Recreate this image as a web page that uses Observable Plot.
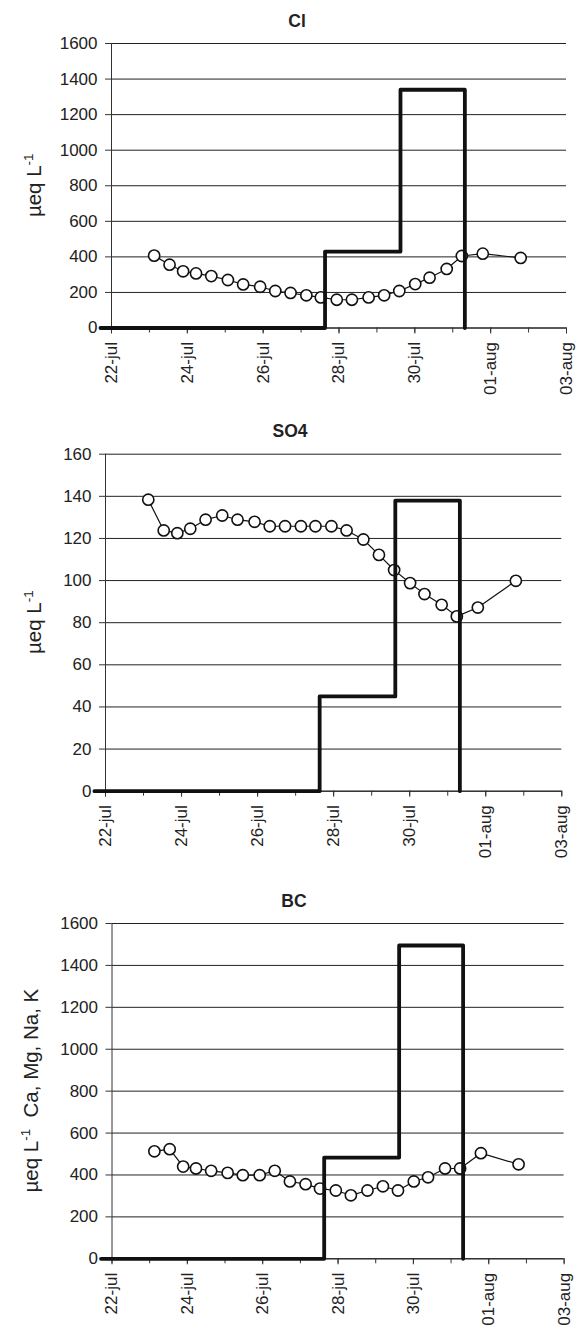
<!DOCTYPE html>
<html><head><meta charset="utf-8">
<script src="https://cdn.jsdelivr.net/npm/d3@7"></script>
<script src="https://cdn.jsdelivr.net/npm/@observablehq/plot@0.6"></script>
<style>
body{margin:0;background:#fff}
#chart{width:583px}
#chart svg{display:block}
</style>
</head><body><div id="chart"></div>
<script>
// ---- data ----
const sampleTimes = ["2008-07-23T03:00Z","2008-07-23T12:45Z","2008-07-23T21:20Z","2008-07-24T05:30Z","2008-07-24T15:10Z","2008-07-25T01:40Z","2008-07-25T11:20Z","2008-07-25T22:05Z","2008-07-26T07:40Z","2008-07-26T17:20Z","2008-07-27T03:20Z","2008-07-27T12:30Z","2008-07-27T22:35Z","2008-07-28T08:10Z","2008-07-28T18:45Z","2008-07-29T04:35Z","2008-07-29T14:10Z","2008-07-30T00:15Z","2008-07-30T09:20Z","2008-07-30T20:10Z","2008-07-31T05:45Z","2008-07-31T19:00Z","2008-08-01T19:00Z"];
const clValues  = [407,356,319,307,292,270,245,232,208,197,184,172,159,159,172,184,208,247,283,332,405,418,394];
const so4Values = [138.4,123.8,122.5,124.6,128.9,130.9,128.9,127.9,125.8,125.8,125.8,125.8,125.8,123.8,119.5,112.2,105,98.8,93.6,88.5,83,87.2,99.9];
const bcValues  = [513,523,440,431,420,410,399,399,420,369,356,335,326,303,326,346,326,369,389,431,431,504,451];

const stepTimes = ["2008-07-21T17:00Z","2008-07-27T15:10Z","2008-07-29T14:55Z","2008-07-31T07:40Z"];
const clSteps  = [0, 430, 1340, 0];
const so4Steps = [0, 45, 138, 0];
const bcSteps  = [0, 483, 1495, 0];

const xTickDates  = ["2008-07-22","2008-07-24","2008-07-26","2008-07-28","2008-07-30","2008-08-01","2008-08-03"];
const xTickLabels = ["22-jul","24-jul","26-jul","28-jul","30-jul","01-aug","03-aug"];
const yTicksBig   = [0,200,400,600,800,1000,1200,1400,1600];
const yTicksSO4   = [0,20,40,60,80,100,120,140,160];

const titles = ["Cl","SO4","BC"];
const yLabelRest = ["", "", "  Ca, Mg, Na, K"];

// ---- rendering ----
const parse = s => new Date(s);
const xStart = new Date(xTickDates[0] + "T00:00Z");
const xEnd = new Date(xTickDates[xTickDates.length-1] + "T00:00Z");
const majorTicks = xTickDates.map(d => new Date(d + "T00:00Z"));
const labelMap = new Map(majorTicks.map((d,i)=>[+d, xTickLabels[i]]));
const dayTicks = d3.utcDay.range(xStart, new Date(+xEnd + 1));
const FONT = "'Liberation Sans', Arial, Helvetica, sans-serif";

function panel(cfg) {
  const rows = sampleTimes.map((t,i)=>({t: parse(t), v: cfg.values[i]}));
  const steps = stepTimes.map((t,i)=>({t: parse(t), v: cfg.steps[i]}));
  const svg = Plot.plot({
    width: 583, height: cfg.height,
    marginTop: cfg.mt, marginBottom: cfg.mb, marginLeft: cfg.ml, marginRight: cfg.mr,
    style: {fontFamily: FONT, fontSize: "17px", color: "#222", background: "white", overflow: "visible"},
    x: {type: "utc", domain: [xStart, xEnd]},
    y: {domain: [0, cfg.yTicks[cfg.yTicks.length-1]]},
    marks: [
      Plot.gridY({ticks: cfg.yTicks, stroke: "#222", strokeOpacity: 1, strokeWidth: 1}),
      Plot.ruleX([xStart], {stroke: "#333", strokeWidth: 1}),
      Plot.ruleY([0], {stroke: "#222", strokeWidth: 1}),
      Plot.axisY({ticks: cfg.yTicks, tickSize: 6, tickPadding: 8, label: null, tickFormat: d => String(d), stroke: "#333"}),
      Plot.axisX({ticks: dayTicks, tickSize: 5, tickFormat: () => "", label: null, stroke: "#333"}),
      Plot.axisX({ticks: majorTicks, tickSize: 6, tickPadding: 8, tickRotate: -90, tickFormat: d => labelMap.get(+d), label: null, stroke: "#333"}),
      Plot.line(rows, {x: "t", y: "v", stroke: "#111", strokeWidth: 1.2}),
      Plot.dot(rows, {x: "t", y: "v", r: 5.6, fill: "white", stroke: "#111", strokeWidth: 1.6}),
      Plot.line(steps, {x: "t", y: "v", curve: "step-after", stroke: "#111", strokeWidth: 3.8})
    ]
  });
  const s = d3.select(svg);
  s.append("text")
    .attr("x", cfg.titleX).attr("y", cfg.titleY)
    .attr("text-anchor", "middle").attr("font-weight", "bold")
    .attr("font-size", 17.5).attr("fill", "#222")
    .text(cfg.title);
  const cy = (cfg.mt + (cfg.height - cfg.mb)) / 2;
  const lab = s.append("text")
    .attr("transform", `translate(${cfg.labelX},${cy}) rotate(-90)`)
    .attr("text-anchor", "middle").attr("font-size", 20.5).attr("fill", "#222")
    .attr("xml:space", "preserve").style("white-space", "pre");
  lab.append("tspan").text("µeq L");
  lab.append("tspan").attr("dy", -8).attr("font-size", 13.5).text("-1");
  if (cfg.rest) lab.append("tspan").attr("dy", 8).text(cfg.rest);
  document.getElementById("chart").appendChild(svg);
}

panel({title: titles[0], values: clValues, steps: clSteps, yTicks: yTicksBig, rest: yLabelRest[0],
  height: 420, mt: 43, mb: 92.5, ml: 111, mr: 17, titleX: 297, titleY: 26.7, labelX: 41});
panel({title: titles[1], values: so4Values, steps: so4Steps, yTicks: yTicksSO4, rest: yLabelRest[1],
  height: 440, mt: 33.7, mb: 69.3, ml: 105, mr: 21.7, titleX: 290, titleY: 16.7, labelX: 41});
panel({title: titles[2], values: bcValues, steps: bcSteps, yTicks: yTicksBig, rest: yLabelRest[2],
  height: 468, mt: 63, mb: 69.7, ml: 111.5, mr: 19.4, titleX: 294, titleY: 46.7, labelX: 37.5});
</script></body></html>
